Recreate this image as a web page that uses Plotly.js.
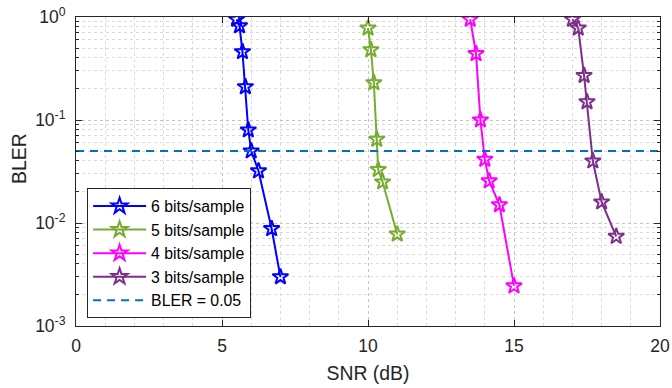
<!DOCTYPE html>
<html>
<head>
<meta charset="utf-8">
<script src="https://cdn.plot.ly/plotly-3.0.1.min.js"></script>
<style>html,body{margin:0;padding:0;background:#fff;}#chart{width:672px;height:388px;}</style>
</head>
<body>
<div id="chart"></div>
<script>
// SNR (dB) and BLER
const snr6 = [5.5, 5.6, 5.7, 5.8, 5.9, 6.0, 6.25, 6.7, 7.0];
const bler6 = [0.95, 0.82, 0.46, 0.21, 0.080, 0.050, 0.032, 0.0088, 0.0030];
const snr5 = [10.0, 10.1, 10.2, 10.3, 10.35, 10.5, 11.0];
const bler5 = [0.78, 0.48, 0.23, 0.065, 0.033, 0.025, 0.0078];
const snr4 = [13.5, 13.7, 13.85, 14.0, 14.15, 14.5, 15.0];
const bler4 = [0.95, 0.44, 0.10, 0.0415, 0.0256, 0.015, 0.00245];
const snr3 = [17.0, 17.2, 17.4, 17.5, 17.7, 18.0, 18.5];
const bler3 = [0.95, 0.78, 0.27, 0.15, 0.040, 0.016, 0.0074];
const thresholdX = [0, 20];
const thresholdY = [0.05, 0.05];
const seriesNames = ['6 bits/sample', '5 bits/sample', '4 bits/sample', '3 bits/sample', 'BLER = 0.05'];
const yTickVals = [0.001, 0.01, 0.1, 1];
const yTickText = ['10<sup>-3</sup>', '10<sup>-2</sup>', '10<sup>-1</sup>', '10<sup>0</sup>'];
const xTickVals = [0, 5, 10, 15, 20];

const colors = ['#0000FF', '#77AC30', '#FF00FF', '#7E2F8E', '#0072BD'];
const xs = [snr6, snr5, snr4, snr3];
const ys = [bler6, bler5, bler4, bler3];

const traces = xs.map((x, i) => ({
  x: x, y: ys[i], type: 'scatter', mode: 'lines+markers', name: seriesNames[i],
  line: {color: colors[i], width: 2},
  marker: {symbol: 'star-open', size: 12, color: colors[i], line: {width: 2, color: colors[i]}}
}));
traces.push({
  x: thresholdX, y: thresholdY, type: 'scatter', mode: 'lines', name: seriesNames[4],
  line: {color: colors[4], width: 2, dash: '8px,6px'}
});

const axisCol = '#262626';
const layout = {
  width: 672, height: 388,
  margin: {l: 76, r: 11.5, t: 17.3, b: 62},
  paper_bgcolor: '#fff', plot_bgcolor: '#fff',
  font: {family: 'Liberation Sans, Arial, sans-serif', color: axisCol},
  showlegend: true,
  xaxis: {
    range: [0, 20], tickmode: 'array', tickvals: xTickVals,
    ticks: 'inside', ticklen: 6, tickcolor: axisCol, tickwidth: 1,
    showline: true, linecolor: axisCol, linewidth: 1, mirror: 'ticks',
    showgrid: true, gridcolor: '#c4c4c4', griddash: 'dot', gridwidth: 1,
    zeroline: false,
    minor: {dtick: 1, showgrid: true, gridcolor: '#dadada', griddash: 'dot', gridwidth: 1, ticks: ''},
    tickfont: {size: 17.5, color: axisCol},
    ticklabelstandoff: 4,
    title: {text: 'SNR (dB)', font: {size: 19.4, color: axisCol}, standoff: 11}
  },
  yaxis: {
    type: 'log', range: [-3, 0], tickmode: 'array', tickvals: yTickVals, ticktext: yTickText,
    ticks: 'inside', ticklen: 6, tickcolor: axisCol, tickwidth: 1,
    showline: true, linecolor: axisCol, linewidth: 1, mirror: 'ticks',
    showgrid: true, gridcolor: '#c4c4c4', griddash: 'dot', gridwidth: 1,
    zeroline: false,
    minor: {dtick: 'D1', showgrid: true, gridcolor: '#dadada', griddash: 'dot', gridwidth: 1, ticks: 'inside', ticklen: 3, tickcolor: axisCol},
    tickfont: {size: 17.5, color: axisCol},
    ticklabelstandoff: 6
  },
  annotations: [{
    text: 'BLER', textangle: -90, showarrow: false,
    xref: 'paper', yref: 'paper', x: -0.0975, y: 0.541, xanchor: 'center', yanchor: 'middle',
    font: {size: 19.4, color: axisCol}
  }],
  legend: {
    x: 0.019, y: 0.025, xanchor: 'left', yanchor: 'bottom',
    bgcolor: '#fff', bordercolor: axisCol, borderwidth: 1,
    font: {size: 15.8, color: '#000'}, itemwidth: 53, tracegroupgap: 0
  }
};

Plotly.newPlot('chart', traces, layout, {displayModeBar: false, staticPlot: true});
</script>
</body>
</html>
